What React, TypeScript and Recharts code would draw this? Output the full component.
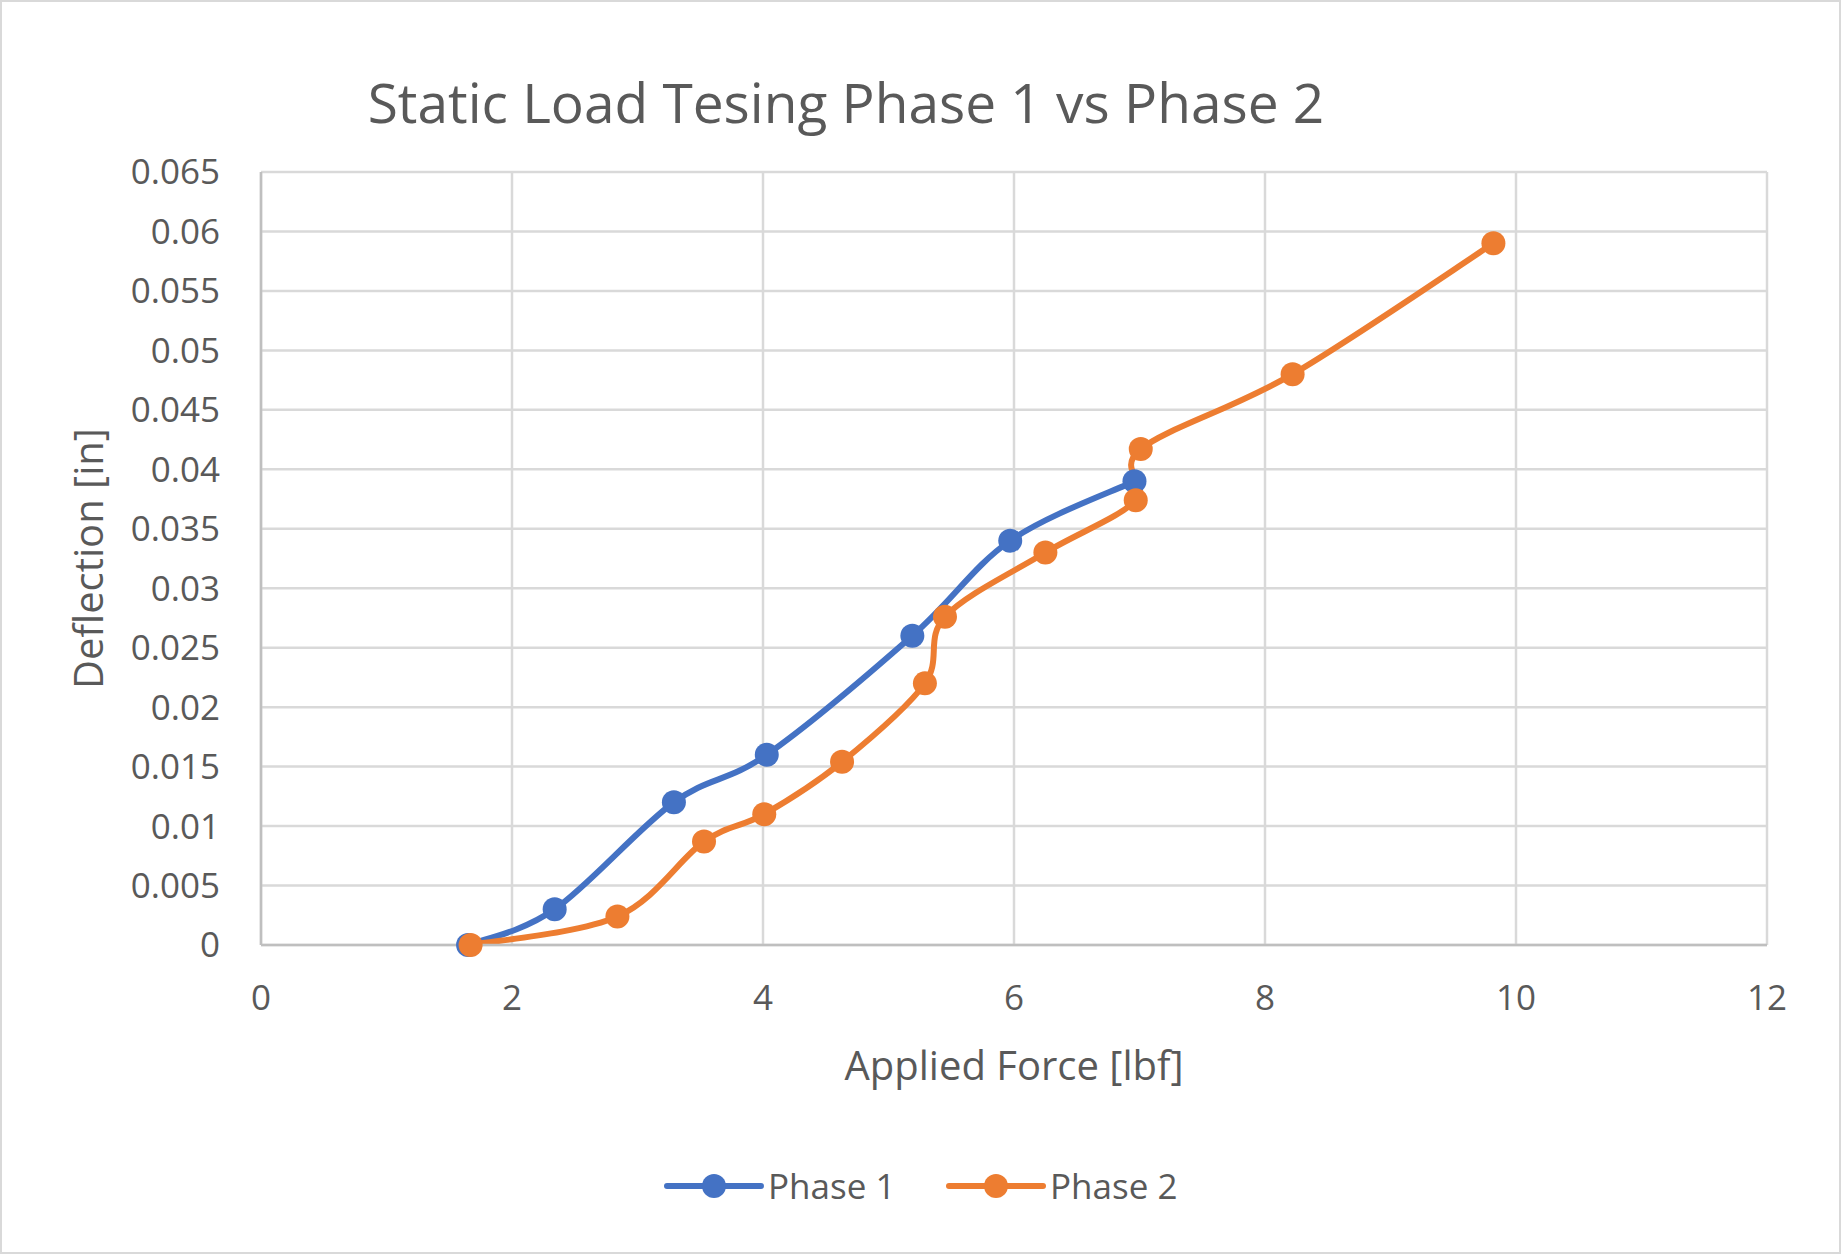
import { CartesianGrid, Line, LineChart, XAxis, YAxis } from "recharts";

const WIDTH = 1841;
const HEIGHT = 1254;
const FONT = '"Open Sans", sans-serif';
const TEXT = "#595959";
const GRID = "#d9d9d9";
const AXIS = "#bfbfbf";
const BLUE = "#4472C4";
const ORANGE = "#ED7D31";

const forceTicks = [0, 2, 4, 6, 8, 10, 12];
const deflectionTicks = [0, 0.005, 0.01, 0.015, 0.02, 0.025, 0.03, 0.035, 0.04, 0.045, 0.05, 0.055, 0.06, 0.065];

// applied force [lbf] and measured deflection [in]
const phase1Force = [1.65, 2.34, 3.29, 4.03, 5.19, 5.97, 6.96];
const phase1Deflection = [0, 0.003, 0.012, 0.016, 0.026, 0.034, 0.039];

const phase2Force = [1.67, 2.84, 3.53, 4.01, 4.63, 5.29, 5.45, 6.25, 6.97, 7.01, 8.22, 9.82];
const phase2Deflection = [0, 0.0024, 0.0087, 0.011, 0.0154, 0.022, 0.0276, 0.033, 0.0374, 0.0417, 0.048, 0.059];

function toPoints(force: number[], deflection: number[]) {
  return force.map((f, i) => ({ force: f, deflection: deflection[i] }));
}

const series = [
  { name: "Phase 1", color: BLUE, data: toPoints(phase1Force, phase1Deflection) },
  { name: "Phase 2", color: ORANGE, data: toPoints(phase2Force, phase2Deflection) },
];

// Catmull-Rom style bezier, same look as a spreadsheet "smoothed line"
function smoothCurve(context: any) {
  let pts: [number, number][] = [];
  return {
    areaStart() {},
    areaEnd() {},
    lineStart() {
      pts = [];
    },
    point(x: number, y: number) {
      pts.push([+x, +y]);
    },
    lineEnd() {
      if (!pts.length) return;
      context.moveTo(pts[0][0], pts[0][1]);
      for (let i = 0; i < pts.length - 1; i++) {
        const p0 = pts[i - 1] || pts[i];
        const p1 = pts[i];
        const p2 = pts[i + 1];
        const p3 = pts[i + 2] || p2;
        context.bezierCurveTo(
          p1[0] + (p2[0] - p0[0]) / 6,
          p1[1] + (p2[1] - p0[1]) / 6,
          p2[0] - (p3[0] - p1[0]) / 6,
          p2[1] - (p3[1] - p1[1]) / 6,
          p2[0],
          p2[1]
        );
      }
    },
  };
}

const tickStyle = { fill: TEXT, fontSize: 35, fontFamily: FONT };

export default function App() {
  return (
    <div
      style={{
        position: "absolute",
        left: 0,
        top: 0,
        width: WIDTH,
        height: HEIGHT,
        background: "#fff",
        boxShadow: `inset 0 0 0 2px ${GRID}`,
        fontFamily: FONT,
      }}
    >
      <LineChart width={WIDTH} height={HEIGHT} margin={{ top: 172, right: 74, bottom: 169, left: 0 }}>
        <CartesianGrid stroke={GRID} strokeWidth={2.5} />
        <XAxis
          dataKey="force"
          type="number"
          domain={[0, 12]}
          ticks={forceTicks}
          height={140}
          tickSize={0}
          tickMargin={40}
          tickLine={false}
          axisLine={{ stroke: AXIS, strokeWidth: 2.5 }}
          tick={tickStyle}
          label={{ value: "Applied Force [lbf]", position: "insideBottom", offset: 5, fill: TEXT, fontSize: 40, fontFamily: FONT }}
        />
        <YAxis
          type="number"
          domain={[0, 0.065]}
          ticks={deflectionTicks}
          width={261}
          tickSize={0}
          tickMargin={41}
          tickLine={false}
          axisLine={{ stroke: AXIS, strokeWidth: 2.5 }}
          tick={tickStyle}
          label={{ value: "Deflection [in]", angle: -90, position: "center", dx: -42, fill: TEXT, fontSize: 40, fontFamily: FONT }}
        />
        {series.map((s) => (
          <Line
            key={s.name}
            data={s.data}
            dataKey="deflection"
            name={s.name}
            type={smoothCurve as any}
            stroke={s.color}
            strokeWidth={6}
            strokeLinecap="round"
            dot={{ r: 12, fill: s.color, stroke: s.color, strokeWidth: 0 }}
            activeDot={false}
            isAnimationActive={false}
          />
        ))}
      </LineChart>
      <svg width={WIDTH} height={HEIGHT} style={{ position: "absolute", left: 0, top: 0, pointerEvents: "none" }}>
        <text x={846} y={123} textAnchor="middle" fill={TEXT} fontSize={55} fontFamily={FONT}>
          Static Load Tesing Phase 1 vs Phase 2
        </text>
        {series.map((s, i) => {
          const x = 667 + i * 282;
          return (
            <g key={s.name}>
              <line x1={x} x2={x + 94} y1={1186} y2={1186} stroke={s.color} strokeWidth={6} strokeLinecap="round" />
              <circle cx={x + 47} cy={1186} r={12} fill={s.color} />
              <text x={x + 101} y={1199} fill={TEXT} fontSize={35} fontFamily={FONT}>
                {s.name}
              </text>
            </g>
          );
        })}
      </svg>
    </div>
  );
}
